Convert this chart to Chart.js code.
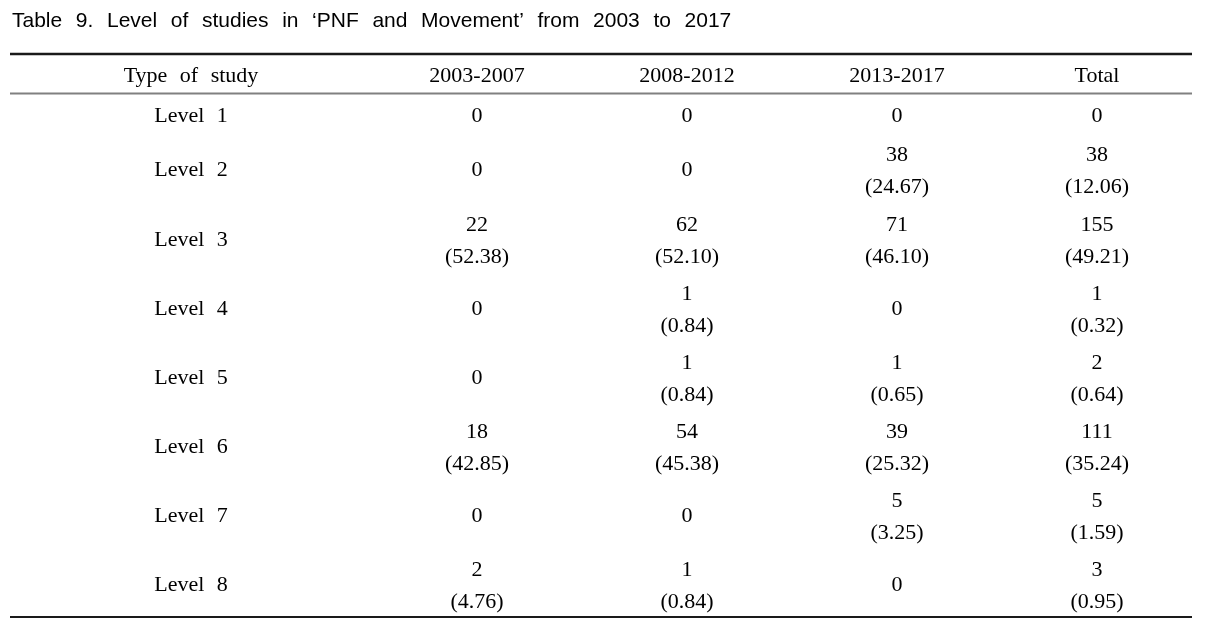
<!DOCTYPE html>
<html>
<head>
<meta charset="utf-8">
<script src="https://cdn.jsdelivr.net/npm/chart.js@4.4.0/dist/chart.umd.min.js"></script>
<style>
  html, body { margin: 0; padding: 0; background: #fff; }
  #wrap { width: 1212px; height: 620px; }
</style>
</head>
<body>
<div id="wrap"><canvas id="table9" width="1212" height="620"></canvas></div>
<script>
// 표 데이터
var tableTitle = "Table 9. Level of studies in ‘PNF and Movement’ from 2003 to 2017";
var firstHeader = "Type of study";
var periods = ["2003-2007", "2008-2012", "2013-2017", "Total"];
var levels = ["Level 1", "Level 2", "Level 3", "Level 4", "Level 5", "Level 6", "Level 7", "Level 8"];

var n2003 = [0, 0, 22, 0, 0, 18, 0, 2];
var p2003 = [null, null, 52.38, null, null, 42.85, null, 4.76];
var n2008 = [0, 0, 62, 1, 1, 54, 0, 1];
var p2008 = [null, null, 52.10, 0.84, 0.84, 45.38, null, 0.84];
var n2013 = [0, 38, 71, 0, 1, 39, 5, 0];
var p2013 = [null, 24.67, 46.10, null, 0.65, 25.32, 3.25, null];
var nTotal = [0, 38, 155, 1, 2, 111, 5, 3];
var pTotal = [null, 12.06, 49.21, 0.32, 0.64, 35.24, 1.59, 0.95];

var counts = [n2003, n2008, n2013, nTotal];
var percents = [p2003, p2008, p2013, pTotal];

// 레이아웃 (열 너비, 행 높이 단위)
var colWidths = [362, 210, 210, 210, 190];
var singleRow = 1;
var doubleRow = 1.75;

var colCenters = [];
var acc = 0;
colWidths.forEach(function (w) {
  colCenters.push(acc + w / 2);
  acc += w;
});
var totalWidth = acc;

// 헤더 + 각 레벨 행 (괄호 값이 있으면 두 줄)
var rowHeights = [singleRow].concat(levels.map(function (lv, r) {
  var twoLines = percents.some(function (p) { return p[r] !== null; });
  return twoLines ? doubleRow : singleRow;
}));
var rowCenters = [];
acc = 0;
rowHeights.forEach(function (h) {
  rowCenters.push(acc + h / 2);
  acc += h;
});
var totalHeight = acc;

// 셀 텍스트
function cellLines(c, r) {
  if (c === 0) return [levels[r]];
  var lines = [String(counts[c - 1][r])];
  var p = percents[c - 1][r];
  if (p !== null) lines.push("(" + p.toFixed(2) + ")");
  return lines;
}

var datasets = [];
for (var c = 0; c < colWidths.length; c++) {
  datasets.push({
    label: c === 0 ? firstHeader : periods[c - 1],
    data: levels.map(function (lv, r) {
      return { x: colCenters[c], y: rowCenters[r + 1] };
    }),
    pointRadius: 0,
    pointHoverRadius: 0,
    showLine: false,
  });
}

var serif = '"Liberation Serif", "Times New Roman", serif';
var sans = '"Liberation Sans", Arial, sans-serif';

var tablePlugin = {
  id: "tablePlugin",
  afterDraw: function (chart) {
    var ctx = chart.ctx;
    var xs = chart.scales.x;
    var ys = chart.scales.y;
    var x0 = xs.getPixelForValue(0);
    var x1 = xs.getPixelForValue(totalWidth);

    ctx.save();
    ctx.fillStyle = "#000";

    // 제목
    ctx.font = "21px " + sans;
    ctx.wordSpacing = "7.8px";
    ctx.textAlign = "left";
    ctx.textBaseline = "alphabetic";
    ctx.fillText(tableTitle, 12, 27);

    // 가로 선
    function rule(yVal, color, width) {
      var y = ys.getPixelForValue(yVal) - 1;
      ctx.strokeStyle = color;
      ctx.lineWidth = width;
      ctx.beginPath();
      ctx.moveTo(x0, y);
      ctx.lineTo(x1, y);
      ctx.stroke();
    }
    rule(0, "#1a1a1a", 2.5);
    rule(rowHeights[0], "#808080", 2);
    rule(totalHeight, "#1a1a1a", 2);

    // 헤더
    ctx.font = "22px " + serif;
    ctx.wordSpacing = "7px";
    ctx.textAlign = "center";
    ctx.textBaseline = "middle";
    var hy = ys.getPixelForValue(rowCenters[0]) + 1;
    var headers = [firstHeader].concat(periods);
    headers.forEach(function (h, i) {
      ctx.fillText(h, xs.getPixelForValue(colCenters[i]), hy);
    });

    // 셀
    chart.data.datasets.forEach(function (ds, c) {
      var meta = chart.getDatasetMeta(c);
      meta.data.forEach(function (pt, r) {
        var lines = cellLines(c, r);
        var y = pt.y + 2;
        if (lines.length === 1) {
          ctx.fillText(lines[0], pt.x, y);
        } else {
          ctx.fillText(lines[0], pt.x, y - 15);
          ctx.fillText(lines[1], pt.x, y + 17);
        }
      });
    });
    ctx.restore();
  },
};

var chart = new Chart(document.getElementById("table9").getContext("2d"), {
  type: "scatter",
  data: { datasets: datasets },
  options: {
    responsive: false,
    animation: false,
    events: [],
    layout: { padding: { left: 10, right: 20, top: 55, bottom: 2 } },
    plugins: { legend: { display: false }, tooltip: { enabled: false } },
    scales: {
      x: { type: "linear", min: 0, max: totalWidth, display: false },
      y: { type: "linear", min: 0, max: totalHeight, reverse: true, display: false },
    },
  },
  plugins: [tablePlugin],
});
</script>
</body>
</html>
